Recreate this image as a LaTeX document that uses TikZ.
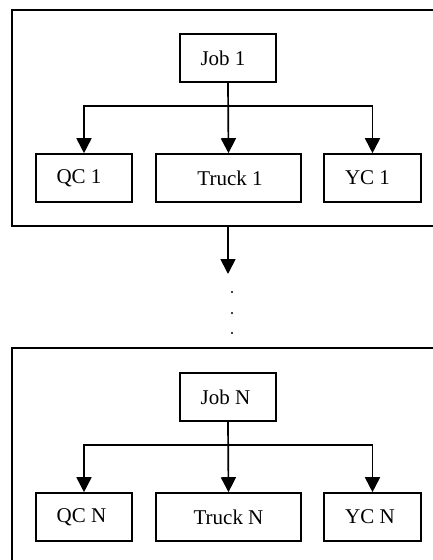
\documentclass[tikz,border=0pt]{standalone}
\usepackage{fontspec}
\setmainfont{Liberation Serif}
\usetikzlibrary{arrows.meta}
\begin{document}
\begin{tikzpicture}[x=1pt,y=-1pt,
  box/.style={draw,line width=1.6pt,minimum height=48pt,inner sep=0pt,font=\fontsize{21}{24}\selectfont},
  frame/.style={draw,line width=1.9pt},
  arr/.style={line width=1.7pt,-{Triangle[length=15pt,width=15pt]}}]
\useasboundingbox (0,0) rectangle (433,560);
\clip (0,0) rectangle (433,560);
% top group
\draw[frame] (12,10) rectangle (460,226);
\node[box,minimum width=96pt] (job1) at (228,58) {\kern-10pt Job 1};
\node[box,minimum width=96pt] (qc1) at (84,178) {\kern-10pt QC 1};
\node[box,minimum width=145pt] (tr1) at (228.5,178) {\kern3pt Truck 1};
\node[box,minimum width=97pt] (yc1) at (372.5,178) {\kern-10pt YC 1};
\coordinate (b1) at (228,106);
\draw[arr] (job1.south) -- (tr1.north);
\draw[arr] (b1) -| (qc1.north);
\draw[arr] (b1) -| (yc1.north);
% link
\coordinate (l1) at (228,226);
\coordinate (l2) at (228,274);
\draw[arr] (l1) -- (l2);
\foreach \yy in {292,313,333} \fill (232,\yy) circle (1.2pt);
% bottom group
\draw[frame] (12,348) rectangle (460,600);
\node[box,minimum width=96pt] (jobN) at (228,397) {\kern-5pt Job N};
\node[box,minimum width=96pt] (qcN) at (84,517) {\kern-5pt QC N};
\node[box,minimum width=145pt] (trN) at (228.5,517) {Truck N};
\node[box,minimum width=97pt] (ycN) at (372.5,517) {\kern-5pt YC N};
\coordinate (bN) at (228,445);
\draw[arr] (jobN.south) -- (trN.north);
\draw[arr] (bN) -| (qcN.north);
\draw[arr] (bN) -| (ycN.north);
\end{tikzpicture}
\end{document}
